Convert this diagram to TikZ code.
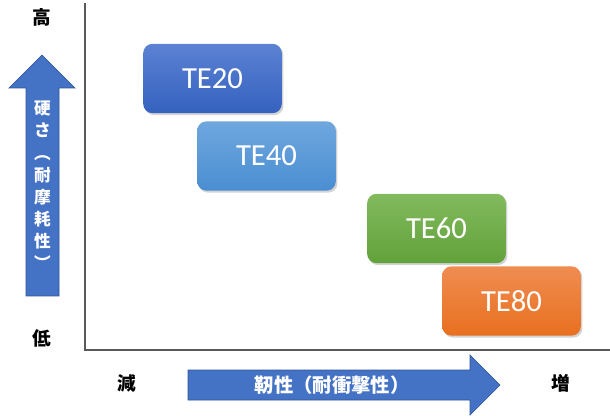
\documentclass[tikz,border=0pt]{standalone}
\usepackage{fontspec}
\newfontfamily\jpfont{Noto Sans CJK JP}
\newfontfamily\boxfont{Carlito}
\usetikzlibrary{positioning,shadows}

\definecolor{arrowblue}{HTML}{4472C4}
\definecolor{arrowedge}{HTML}{2F5597}
\definecolor{axisgray}{HTML}{595959}
\definecolor{te20top}{HTML}{5B82D3}
\definecolor{te20bot}{HTML}{3562BF}
\definecolor{te40top}{HTML}{6FA7DE}
\definecolor{te40bot}{HTML}{4A8ED2}
\definecolor{te60top}{HTML}{82BA5E}
\definecolor{te60bot}{HTML}{62A23A}
\definecolor{te80top}{HTML}{F08C52}
\definecolor{te80bot}{HTML}{E8701F}

\tikzset{
    grade/.style={rounded corners=7pt, minimum width=104pt, minimum height=52pt,
        top color=#1top, bottom color=#1bot, text=white,
        font=\boxfont\fontsize{23}{23}\selectfont,
        drop shadow={shadow xshift=1.2pt, shadow yshift=-1.5pt, opacity=0.35}},
    endlabel/.style={font=\jpfont\bfseries\fontsize{14}{14}\selectfont},
    bigarrow/.style={fill=arrowblue, draw=arrowedge, line width=0.5pt},
    arrowtext/.style={text=white, font=\jpfont\bfseries\fontsize{#1}{16.6}\selectfont}
}

\begin{document}
\begin{tikzpicture}[x=0.75pt,y=-0.75pt]
        \useasboundingbox (0,0) rectangle (610,416);

        % axes
        \draw[axisgray, line width=0.8pt] (85,3) |- (610,350);

        % grades
        \node[grade=te20] (te20) at (212.5,78.5) {TE20};
        \node[grade=te40] (te40) at (266.5,156) {TE40};
        \node[grade=te60] (te60) at (436.5,228.5) {TE60};
        \node[grade=te80] (te80) at (511.5,301) {TE80};

        % hardness arrow
        \draw[bigarrow] (26,296) -- (26,88) -- (9,88) -- (42,55) -- (75,88) -- (59,88) -- (59,296) -- cycle;
        \node[arrowtext=12.5, align=center, inner sep=0pt] (hardness) at (42.5,185.5)
            {硬\\さ\\︵\\耐\\摩\\耗\\性\\︶};
        \node[endlabel] (high) at (42,17) {高};
        \node[endlabel] (low) at (42,338) {低};

        % toughness arrow
        \draw[bigarrow] (188,370) -- (470,370) -- (470,355) -- (500,385) -- (470,415) -- (470,400) -- (188,400) -- cycle;
        \node[arrowtext=14.5] (toughness) at (332,385) {靭性（耐衝撃性）};
        \node[endlabel] (less) at (127,383) {減};
        \node[endlabel] (more) at (561,383) {増};
\end{tikzpicture}
\end{document}
